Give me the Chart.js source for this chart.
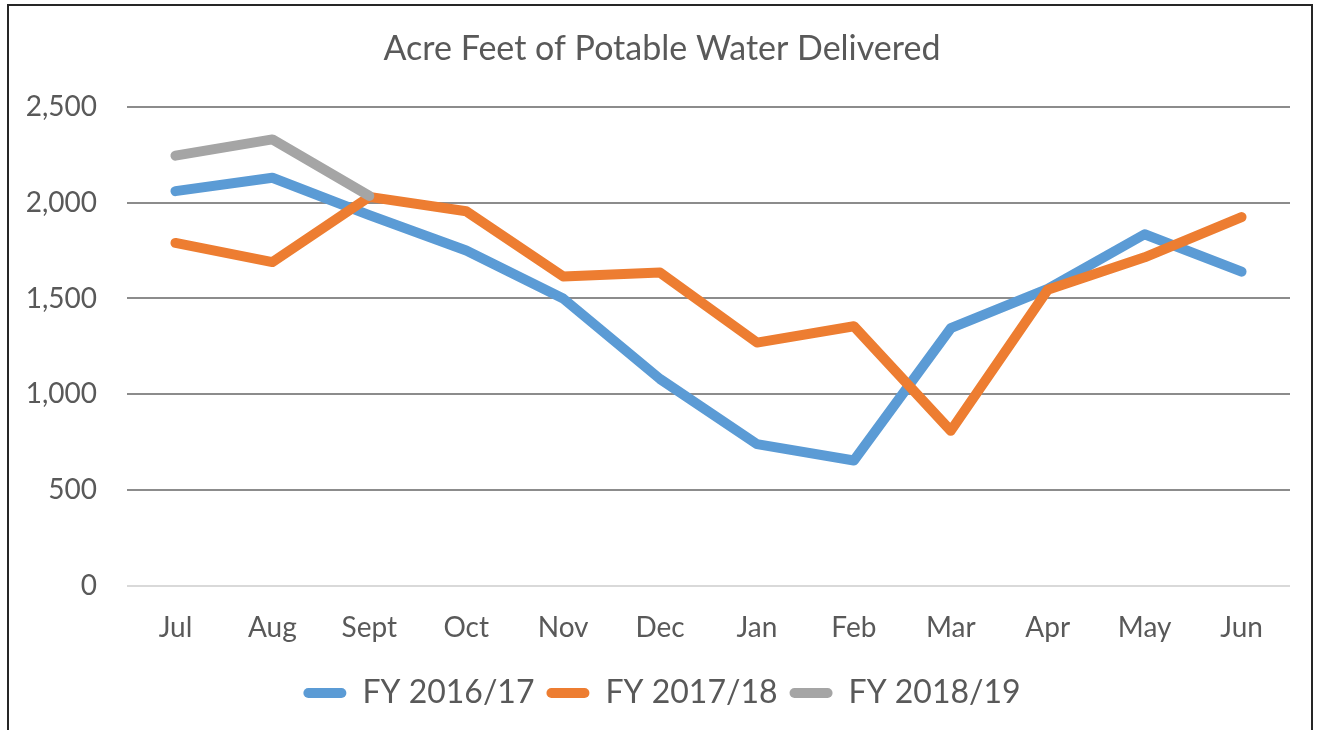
<!DOCTYPE html>
<html>
<head>
<meta charset="utf-8">
<script src="https://cdn.jsdelivr.net/npm/chart.js@4.4.1/dist/chart.umd.min.js"></script>
<style>
  html, body { margin: 0; padding: 0; background: #fff; overflow: hidden; }
  #frame { position: absolute; left: 7px; top: 4px; width: 1306px; height: 760px; border: 2px solid #262626; box-sizing: border-box; }
  #wrap { position: absolute; left: 0; top: 0; width: 1321px; height: 730px; }
</style>
</head>
<body>
<div id="frame"></div>
<div id="wrap"><canvas id="waterChart" width="1321" height="730"></canvas></div>
<script>
// months of the fiscal year
const months = ['Jul', 'Aug', 'Sept', 'Oct', 'Nov', 'Dec', 'Jan', 'Feb', 'Mar', 'Apr', 'May', 'Jun'];

// acre feet delivered
const fy1617 = [2060, 2130, 1935, 1750, 1500, 1080, 740, 655, 1345, 1550, 1835, 1640];
const fy1718 = [1790, 1690, 2030, 1955, 1615, 1635, 1270, 1355, 810, 1545, 1715, 1925];
const fy1819 = [2245, 2330, 2035, null, null, null, null, null, null, null, null, null];

const textColor = '#595959';
const fontName = 'Lato, "Open Sans", sans-serif';

function makeSet(label, values, color, order) {
    return {
        label: label,
        data: values,
        order: order,
        borderColor: color,
        backgroundColor: color,
        borderWidth: 10,
        borderCapStyle: 'round',
        borderJoinStyle: 'round',
        pointRadius: 0,
        pointHoverRadius: 0,
        tension: 0,
        spanGaps: false
    };
}

const ctx = document.getElementById('waterChart').getContext('2d');
const waterChart = new Chart(ctx, {
    type: 'line',
    data: {
        labels: months,
        datasets: [
            makeSet('FY 2016/17', fy1617, '#5B9BD5', 2),
            makeSet('FY 2017/18', fy1718, '#ED7D31', 1),
            makeSet('FY 2018/19', fy1819, '#A5A5A5', 0)
        ]
    },
    options: {
        responsive: false,
        animation: false,
        layout: { padding: { left: 17, right: 14, top: 29, bottom: 11 } },
        plugins: {
            title: {
                display: true,
                text: 'Acre Feet of Potable Water Delivered',
                color: textColor,
                font: { family: fontName, size: 34, weight: 'normal' },
                padding: { top: 0, bottom: 37 }
            },
            legend: {
                position: 'bottom',
                labels: {
                    color: textColor,
                    font: { family: fontName, size: 32 },
                    boxWidth: 43,
                    boxHeight: 10,
                    padding: 12,
                    useBorderRadius: true,
                    borderRadius: 5,
                    generateLabels: function (chart) {
                        return chart.data.datasets.map(function (ds, i) {
                            return {
                                text: ds.label,
                                fillStyle: ds.borderColor,
                                strokeStyle: ds.borderColor,
                                lineWidth: 0,
                                fontColor: textColor,
                                datasetIndex: i,
                                borderRadius: 5
                            };
                        });
                    }
                }
            },
            tooltip: { enabled: false }
        },
        scales: {
            x: {
                offset: true,
                afterFit: function (scale) { scale.height = 79; },
                grid: { display: false },
                border: { display: false },
                ticks: {
                    color: textColor,
                    font: { family: fontName, size: 28 },
                    padding: 17,
                    maxRotation: 0
                }
            },
            y: {
                min: 0,
                max: 2500,
                afterFit: function (scale) { scale.width = 110; },
                border: { display: false },
                grid: {
                    drawTicks: false,
                    lineWidth: 2,
                    color: function (c) { return c.tick && c.tick.value === 0 ? '#d9d9d9' : '#8c8c8c'; }
                },
                ticks: {
                    stepSize: 500,
                    padding: 30,
                    color: textColor,
                    font: { family: fontName, size: 28 },
                    callback: function (v) { return v.toLocaleString('en-US'); }
                }
            },
            // empty right-hand axis, only keeps the plot clear of the right edge
            yRight: {
                position: 'right',
                afterFit: function (scale) { scale.width = 17; },
                grid: { display: false },
                border: { display: false },
                ticks: { display: false }
            }
        }
    }
});
</script>
</body>
</html>
